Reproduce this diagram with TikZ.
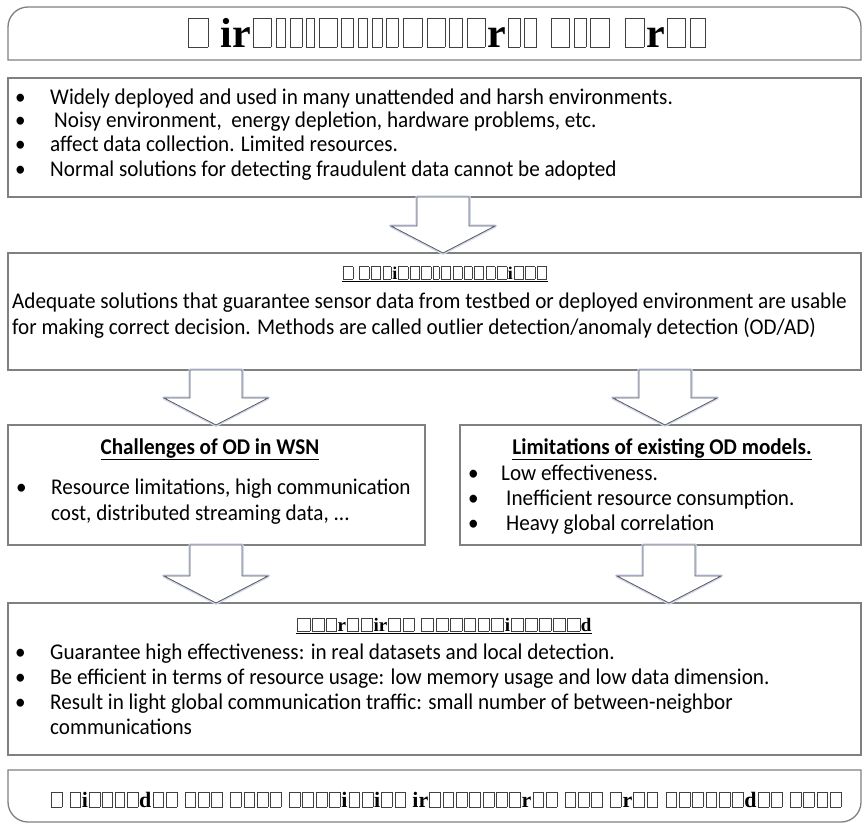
\documentclass[tikz,border=0pt]{standalone}
\usepackage{fontspec}
\setmainfont{Carlito}[FakeStretch=0.94]
\newfontfamily\tnr{Liberation Serif}
\usetikzlibrary{calc}
\newcommand\tofu[1][0.36]{\kern0.05em\begingroup\color{black!75}\fboxsep0pt\fboxrule0.4pt\fbox{\rule{0pt}{0.68em}\hspace{#1em}}\endgroup\kern0.05em}
\newcommand\blockarr[3]{%
  \path[glow] let \p1=(#1.south), \p2=(#2.north) in
    (#3-26,\y1) -- (#3+26,\y1) -- (#3+26,\y2+27) -- (#3+52,\y2+27) -- (#3,\y2) -- (#3-52,\y2+27) -- (#3-26,\y2+27) -- cycle;
  \path[blockarrow] let \p1=(#1.south), \p2=(#2.north) in
    (#3-26,\y1) -- (#3+26,\y1) -- (#3+26,\y2+27) -- (#3+52,\y2+27) -- (#3,\y2) -- (#3-52,\y2+27) -- (#3-26,\y2+27) -- cycle;}
\tikzset{
  panel/.style={draw=black!50, line width=1.3pt, anchor=north west, inner sep=0pt, outer sep=0pt},
  panelline/.style={draw=black!50, line width=1.3pt},
  txt/.style={anchor=base west, inner sep=0pt, font=\fontsize{22.5}{24}\selectfont},
  head/.style={anchor=base, inner sep=0pt, font=\fontsize{22.5}{24}\selectfont\bfseries},
  garb/.style={anchor=base, inner sep=0pt},
  blockarrow/.style={draw=black!65, fill=white, line width=0.8pt, line join=miter},
  glow/.style={draw=cyan!40!blue!18, line width=3.5pt, line join=round}
}
\begin{document}
\begin{tikzpicture}[x=1pt,y=1pt]
\useasboundingbox (0,0) rectangle (864,-827);
% title
\node[inner sep=0pt, outer sep=0pt, minimum width=853pt, minimum height=53pt, anchor=north west] (ttl) at (8,-7) {};
\draw[panelline] (ttl.south west) -- ([yshift=-20pt]ttl.north west) arc[start angle=180,end angle=90,radius=20pt]
  -- ([xshift=-20pt]ttl.north east) arc[start angle=90,end angle=0,radius=20pt] -- (ttl.south east) -- cycle;
\node[garb, font=\tnr\bfseries\fontsize{42}{44}\selectfont] (ttltxt) at (447,-47)
 {\tofu[.45]\ ir\tofu[.42]\tofu[.22]\tofu[.27]\tofu[.18]\tofu[.42]\tofu[.27]\tofu[.22]\tofu[.22]\tofu[.27]\tofu[.45]\tofu[.42]\tofu[.3]\tofu[.42]r\tofu[.27]\tofu[.27]\ \tofu[.42]\tofu[.27]\tofu[.45]\ \tofu[.45]r\tofu[.42]\tofu[.36]};
% box 2
\node[panel, minimum width=853pt, minimum height=119pt] (b2) at (8,-78) {};
\node[txt] (b2a) at (15,-104) {\textbullet};
\node[txt] (b2b) at (15,-127) {\textbullet};
\node[txt] (b2c) at (15,-151) {\textbullet};
\node[txt] (b2d) at (15,-176) {\textbullet};
\node[txt] (b2at) at (50,-104) {Widely deployed and used in many unattended and harsh environments.};
\node[txt] (b2bt) at (54,-127) {Noisy environment,\ \ energy depletion, hardware problems, etc.};
\node[txt] (b2ct) at (50,-151) {affect data collection. Limited resources.};
\node[txt] (b2dt) at (50,-176) {Normal solutions for detecting fraudulent data cannot be adopted};
% box 3
\node[panel, minimum width=853pt, minimum height=117pt] (b3) at (8,-253) {};
\node[garb, font=\tnr\bfseries\fontsize{18}{20}\selectfont] (b3h) at (445,-279)
 {\underline{\tofu[.5]\ \tofu[.5]\tofu[.5]\tofu[.45]i\tofu[.5]\tofu[.5]\tofu[.5]\tofu[.3]\tofu[.5]\tofu[.5]\tofu[.4]\tofu[.5]\tofu[.5]\tofu[.5]i\tofu[.5]\tofu[.5]\tofu[.5]}};
\node[txt] (b3a) at (12,-308) {Adequate solutions that guarantee sensor data from testbed or deployed environment are usable};
\node[txt] (b3b) at (12,-334) {for making correct decision. Methods are called outlier detection/anomaly detection (OD/AD)};
% box 4 and 5
\node[panel, minimum width=417pt, minimum height=120pt] (b4) at (8,-425) {};
\node[panel, minimum width=401pt, minimum height=120pt] (b5) at (460,-425) {};
\node[head] (b4h) at (210,-454) {\underline{Challenges of OD in WSN}};
\node[txt] (b4a) at (16,-494) {\textbullet};
\node[txt] (b4at) at (51,-494) {Resource limitations, high communication};
\node[txt] (b4bt) at (51,-520) {cost, distributed streaming data, ...};
\node[head] (b5h) at (662,-454) {\underline{Limitations of existing OD models.}};
\node[txt] (b5a) at (468,-480) {\textbullet};
\node[txt] (b5b) at (468,-505) {\textbullet};
\node[txt] (b5c) at (468,-530) {\textbullet};
\node[txt] (b5at) at (501,-480) {Low effectiveness.};
\node[txt] (b5bt) at (506,-505) {Inefficient resource consumption.};
\node[txt] (b5ct) at (506,-530) {Heavy global correlation};
% box 6
\node[panel, minimum width=853pt, minimum height=152pt] (b6) at (8,-603) {};
\node[garb, font=\tnr\bfseries\fontsize{19}{21}\selectfont] (b6h) at (444,-631)
 {\underline{\tofu[.62]\tofu[.62]\tofu[.5]r\tofu[.58]\tofu[.58]ir\tofu[.62]\tofu[.58]\ \tofu[.62]\tofu[.62]\tofu[.58]\tofu[.58]\tofu[.58]\tofu[.62]i\tofu[.62]\tofu[.58]\tofu[.58]\tofu[.62]\tofu[.62]d}};
\node[txt] (b6a) at (15,-659) {\textbullet};
\node[txt] (b6b) at (15,-684) {\textbullet};
\node[txt] (b6c) at (15,-709) {\textbullet};
\node[txt] (b6at) at (50,-659) {Guarantee high effectiveness: in real datasets and local detection.};
\node[txt] (b6bt) at (50,-684) {Be efficient in terms of resource usage: low memory usage and low data dimension.};
\node[txt] (b6ct) at (50,-709) {Result in light global communication traffic: small number of between-neighbor};
\node[txt] (b6dt) at (50,-734) {communications};
% bottom
\node[inner sep=0pt, outer sep=0pt, minimum width=853pt, minimum height=52pt, anchor=north west] (bot) at (8,-770) {};
\draw[panelline] (bot.north west) -- (bot.north east) -- ([yshift=20pt]bot.south east) arc[start angle=0,end angle=-90,radius=20pt]
  -- ([xshift=20pt]bot.south west) arc[start angle=270,end angle=180,radius=20pt] -- cycle;
\node[garb, font=\tnr\bfseries\fontsize{22}{24}\selectfont] (bottxt) at (446,-807)
 {\tofu[.47]\ \tofu[.47]i\tofu[.47]\tofu[.42]\tofu[.42]\tofu[.47]d\tofu[.47]\tofu[.47]\ \tofu[.47]\tofu[.47]\tofu[.47]\ \tofu[.47]\tofu[.47]\tofu[.47]\tofu[.47]\ \tofu[.47]\tofu[.47]\tofu[.47]\tofu[.47]i\tofu[.47]\tofu[.47]i\tofu[.47]\tofu[.47]\ ir\tofu[.47]\tofu[.47]\tofu[.47]\tofu[.47]\tofu[.47]\tofu[.47]\tofu[.47]r\tofu[.47]\tofu[.47]\ \tofu[.47]\tofu[.47]\tofu[.47]\ \tofu[.47]r\tofu[.47]\tofu[.47]\ \tofu[.47]\tofu[.47]\tofu[.47]\tofu[.47]\tofu[.47]\tofu[.47]d\tofu[.47]\tofu[.47]\ \tofu[.47]\tofu[.47]\tofu[.47]\tofu[.47]};
% arrows
\blockarr{b2}{b3}{443}
\blockarr{b3}{b4}{216}
\blockarr{b3}{b5}{665}
\blockarr{b4}{b6}{216}
\blockarr{b5}{b6}{669}
\end{tikzpicture}
\end{document}
